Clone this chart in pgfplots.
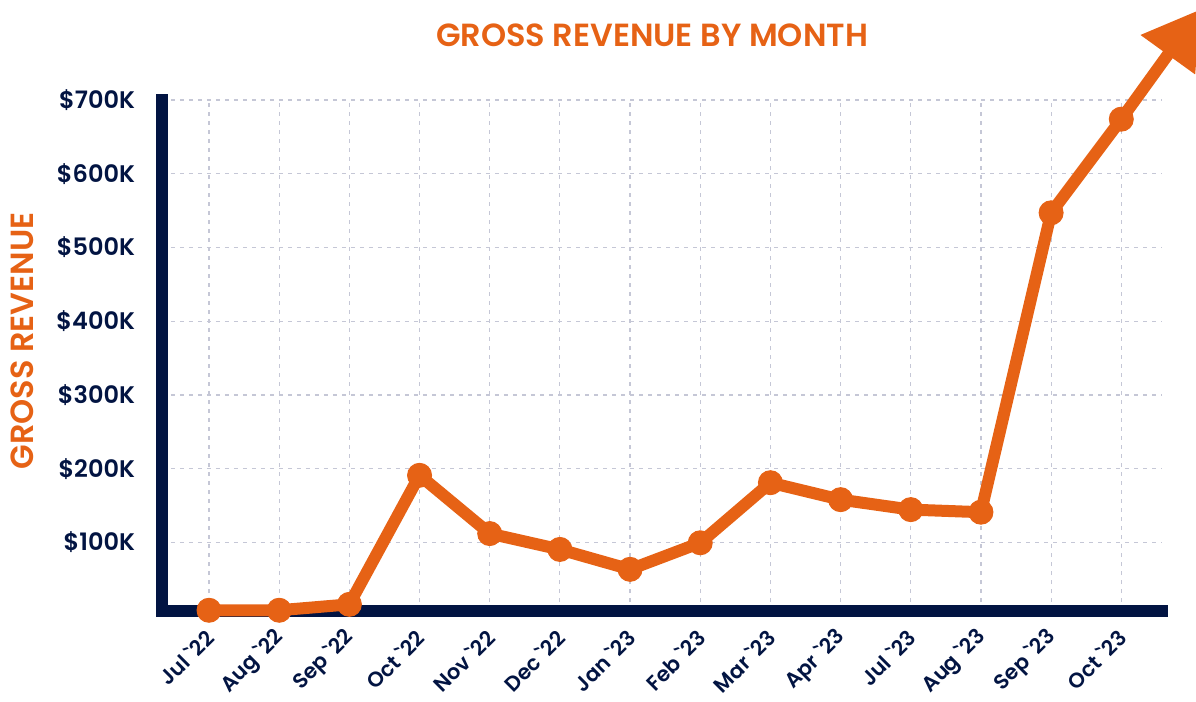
\documentclass[border=0pt]{standalone}
\usepackage{fontspec}
\setmainfont{Poppins}[BoldFont={Poppins SemiBold}]
\usepackage{pgfplots}
\pgfplotsset{compat=1.18}
\usetikzlibrary{arrows.meta}
\definecolor{orng}{HTML}{E66215}
\definecolor{navy}{HTML}{021442}
\definecolor{gridc}{HTML}{C5C7D6}
\begin{document}
\begin{tikzpicture}
\useasboundingbox (-81pt,-45.5pt) rectangle (517pt,305.5pt);
\begin{axis}[
  at={(0,0)}, anchor=south west,
  scale only axis, width=500pt, height=255.5pt,
  xmin=-0.67, xmax=13.58, ymin=7000, ymax=700000,
  axis x line=bottom, axis y line=left,
  axis line style={navy, line width=6pt, line cap=rect, -},
  scaled y ticks=false,
  xtick={0,...,13},
  xticklabels={Jul {\textasciigrave}22, Aug {\textasciigrave}22, Sep {\textasciigrave}22, Oct {\textasciigrave}22, Nov {\textasciigrave}22, Dec {\textasciigrave}22, Jan {\textasciigrave}23, Feb {\textasciigrave}23, Mar {\textasciigrave}23, Apr {\textasciigrave}23, Jul {\textasciigrave}23, Aug {\textasciigrave}23, Sep {\textasciigrave}23, Oct {\textasciigrave}23},
  xticklabel style={xshift=3pt, yshift=-9pt, rotate=45, anchor=east, font=\bfseries\fontsize{10.5}{10.5}\selectfont, text=navy},
  ytick={100000,200000,300000,400000,500000,600000,700000},
  yticklabels={\$100K,\$200K,\$300K,\$400K,\$500K,\$600K,\$700K},
  yticklabel style={anchor=east, xshift=-10pt, font=\bfseries\fontsize{12}{12}\selectfont, text=navy},
  grid=major,
  major grid style={gridc, line width=0.6pt, dash pattern=on 2pt off 2.5pt},
  major tick length=3pt, tick align=inside,
  tick style={gridc, line width=0.8pt},
  clip=false,
]
\addplot[orng, line width=6pt, line join=round, mark=*, mark size=6pt,
  mark options={solid, fill=orng, draw=orng, line width=0.5pt}]
  coordinates {
  (0,8000) (1,8000) (2,16000) (3,191000) (4,112000) (5,90500) (6,63500)
  (7,99500) (8,181000) (9,158000) (10,144500) (11,141000) (12,547000) (13,674000)
  };
\draw[orng, line width=6pt, -{Triangle[length=28pt,width=32pt]}]
  (axis cs:13,674000) -- (axis cs:14.13,823000);
\end{axis}
\node[font=\bfseries\fontsize{16}{16}\selectfont, text=orng] at (245pt,288pt) {GROSS REVENUE BY MONTH};
\node[rotate=90, font=\bfseries\fontsize{16}{16}\selectfont, text=orng] at (-70pt,135pt) {GROSS REVENUE};
\end{tikzpicture}
\end{document}
